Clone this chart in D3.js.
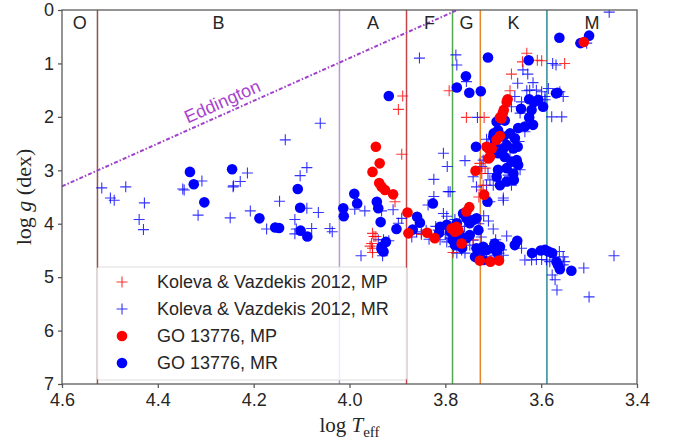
<!DOCTYPE html>
<html>
<head>
<meta charset="utf-8">
<script src="https://cdn.jsdelivr.net/npm/d3@7"></script>
<style>
  body { margin: 0; background: #fff; }
  svg { font-family: "Liberation Sans", Arial, sans-serif; }
</style>
</head>
<body>
<div id="chart"></div>
<script>
// spectral class boundaries (log Teff) and labels
const classBounds = [4.526, 4.021, 3.881, 3.785, 3.727, 3.588];
const classColours = ["#8c564b", "#b69ad6", "#c4464c", "#4fa94f", "#e8862a", "#2b8a99"];
const classLabels = ["O", "B", "A", "F", "G", "K", "M"];

// Eddington limit: log g = a * logT + b
const eddington = { a: 4.0, b: -15.1 };

const xTicks = [4.6, 4.4, 4.2, 4.0, 3.8, 3.6, 3.4];
const yTicks = [0, 1, 2, 3, 4, 5, 6, 7];

const seriesNames = ["Koleva & Vazdekis 2012, MP", "Koleva & Vazdekis 2012, MR", "GO 13776, MP", "GO 13776, MR"];

// Koleva & Vazdekis 2012, metal-poor  [logTeff, logg]
const kvMP = [
  [3.889,1.61],[3.898,1.86],[3.891,2.70],[3.792,1.51],[3.756,2.01],[3.719,2.01],[3.630,0.81],[3.639,0.97],
  [3.608,0.94],[3.599,0.95],[3.662,1.20],[3.665,1.51],[3.551,1.00],[3.905,3.59],[3.949,4.24],[3.954,4.37],
  [3.957,4.42],[3.952,4.18],[3.945,4.24],[3.952,4.46],[3.952,4.54],[3.728,2.87],[3.724,3.06],[3.717,2.96],
  [3.721,3.28],[3.724,3.37],[3.742,4.30],[3.784,4.54],[3.850,4.20],[3.730,3.50]
];

// Koleva & Vazdekis 2012, metal-rich
const kvMR = [
  [4.517,3.33],[4.499,3.52],[4.491,3.56],[4.467,3.31],[4.428,3.61],[4.439,3.92],[4.430,4.11],[4.345,3.37],
  [4.308,3.20],[4.316,3.84],[4.243,3.31],[4.249,3.89],[4.228,3.21],[4.134,2.43],[4.061,2.12],[4.089,2.95],
  [4.103,3.10],[4.089,3.71],[4.065,3.79],[4.146,3.58],[4.207,3.76],[4.242,3.29],[4.213,3.05],[4.348,3.35],
  [4.173,4.10],[4.114,3.92],[4.114,4.19],[4.111,4.10],[4.079,4.09],[4.041,4.09],[4.036,4.15],
  [3.989,3.73],[3.968,3.76],[3.909,3.74],[3.933,3.76],[3.929,4.30],[3.976,4.60],[3.931,4.60],[3.940,4.30],
  [3.918,4.32],[3.854,0.90],[3.850,4.18],[3.836,3.65],[3.824,3.49],[3.794,3.40],[3.804,3.81],[3.797,3.86],
  [3.811,4.30],[3.834,4.29],[3.898,3.99],[3.891,3.90],[3.804,2.68],[3.796,2.93],[3.824,3.17],[3.790,3.40],
  [3.820,4.05],[3.815,4.12],[3.830,4.22],[3.800,4.20],[3.840,4.12],[3.860,4.15],[3.870,4.25],
  [3.778,0.84],[3.776,1.03],[3.756,1.34],[3.759,2.82],[3.797,4.34],[3.790,4.27],[3.783,4.43],[3.776,4.55],
  [3.766,4.49],[3.759,4.55],[3.749,4.40],[3.742,4.31],[3.742,3.12],[3.735,3.31],[3.770,3.95],[3.775,4.20],
  [3.760,4.05],[3.765,4.30],[3.780,3.92],
  [3.733,2.01],[3.735,4.59],[3.724,4.55],[3.714,4.62],[3.707,4.46],[3.697,4.59],[3.690,4.62],[3.672,4.23],
  [3.641,4.46],[3.634,4.68],[3.620,4.68],[3.610,4.67],[3.599,4.67],[3.683,4.49],[3.679,4.59],[3.688,4.55],
  [3.679,3.56],[3.638,1.12],[3.628,1.20],[3.649,1.37],[3.617,1.36],[3.624,1.50],[3.630,1.51],[3.711,2.50],
  [3.714,2.42],[3.703,2.68],[3.714,2.75],[3.721,2.81],[3.724,2.93],[3.711,3.06],[3.707,3.18],[3.700,3.28],
  [3.676,3.21],[3.662,3.28],[3.679,3.52],[3.714,3.28],[3.707,3.59],[3.655,1.62],[3.641,1.72],[3.662,1.81],
  [3.644,1.93],[3.634,2.28],[3.646,2.46],[3.665,2.75],[3.644,2.99],[3.669,3.09],[3.610,1.50],[3.720,3.85],
  [3.730,4.00],[3.710,3.95],[3.700,4.10],[3.695,4.30],[3.725,4.25],
  [3.589,4.68],[3.582,4.71],[3.576,1.00],[3.569,1.03],[3.585,1.47],[3.592,1.62],[3.554,1.62],[3.561,1.53],
  [3.578,2.00],[3.557,2.00],[3.592,1.68],[3.458,0.04],[3.562,4.52],[3.554,4.62],[3.551,4.71],[3.554,4.77],
  [3.577,4.96],[3.571,5.05],[3.567,5.24],[3.511,4.83],[3.500,5.37],[3.448,4.60],[3.505,0.62],[3.599,1.53]
];

// GO 13776, metal-poor
const goMP = [
  [3.945,2.56],[3.937,2.87],[3.952,3.03],[3.938,3.24],[3.933,3.31],[3.926,3.37],[3.909,3.45],[3.879,3.79],
  [3.877,4.18],[3.838,4.17],[3.822,4.27],[3.784,4.09],[3.777,4.06],[3.773,4.12],[3.780,4.15],[3.787,4.09],
  [3.766,4.37],[3.728,4.69],[3.706,4.71],[3.688,4.69],[3.511,0.60],[3.670,1.67],[3.672,1.72],[3.678,1.87],
  [3.680,1.93],[3.686,2.01],[3.683,2.03],[3.686,2.36],[3.693,2.43],[3.714,2.56],[3.708,2.61],[3.703,2.59],
  [3.707,2.75],[3.710,2.78],[3.737,3.01],[3.719,3.46],[3.750,3.69],[3.756,3.77]
];

// GO 13776, metal-rich
const goMR = [
  [4.333,3.03],[4.325,3.26],[4.303,3.60],[4.245,2.98],[4.108,3.35],[4.103,3.70],[4.188,3.90],[4.155,4.07],
  [4.147,4.08],[4.102,4.13],[4.088,4.24],
  [4.013,3.71],[4.012,3.86],[3.990,3.44],[3.984,3.62],[3.943,3.59],[3.940,3.71],[3.935,3.97],[3.902,4.10],
  [3.924,4.34],[3.933,4.43],[3.933,4.48],[3.929,4.52],[3.918,1.61],
  [3.868,4.11],[3.859,3.87],[3.853,3.98],[3.826,3.62],[3.813,4.17],[3.811,4.06],[3.797,4.02],[3.776,3.99],
  [3.757,1.24],[3.776,1.45],[3.750,1.55],[3.763,3.81],[3.756,3.90],[3.749,3.99],[3.749,4.21],[3.756,4.27],
  [3.770,4.20],[3.785,4.30],[3.790,4.15],[3.780,4.40],[3.765,4.45],
  [3.726,1.52],[3.711,0.89],[3.626,0.94],[3.742,3.93],[3.735,3.90],[3.731,4.12],[3.735,4.46],[3.728,4.52],
  [3.721,4.43],[3.714,4.49],[3.700,4.46],[3.693,4.52],[3.686,4.43],[3.697,4.37],[3.738,4.62],[3.731,4.65],
  [3.721,4.68],[3.655,4.40],[3.650,4.32],[3.619,4.55],[3.601,4.50],[3.736,2.56],[3.712,3.59],
  [3.625,1.67],[3.615,1.72],[3.606,1.68],[3.596,1.81],[3.620,1.87],[3.642,1.85],[3.625,2.01],[3.617,2.15],
  [3.634,2.18],[3.648,2.21],[3.676,2.07],[3.693,2.09],[3.699,2.31],[3.690,2.25],[3.665,2.31],[3.679,2.37],
  [3.672,2.53],[3.655,2.40],[3.649,2.56],[3.658,2.59],[3.679,2.59],[3.697,2.50],[3.700,2.37],[3.690,2.68],
  [3.676,2.75],[3.662,2.84],[3.651,2.81],[3.648,2.90],[3.672,2.96],[3.658,3.06],[3.690,2.99],[3.693,3.12],
  [3.686,3.28],[3.672,3.21],[3.657,3.18],
  [3.592,4.49],[3.585,4.52],[3.577,4.55],[3.568,4.71],[3.565,4.77],[3.561,4.85],[3.537,4.88],[3.562,0.52],
  [3.500,0.48],[3.518,0.62],[3.569,1.56],[3.566,1.55]
];

const margin = {top: 10, right: 36, bottom: 56, left: 62};
const svgWidth = 673, svgHeight = 440;
const width = svgWidth - margin.left - margin.right;
const height = svgHeight - margin.top - margin.bottom;

const svg = d3.select("#chart").append("svg")
    .attr("width", svgWidth)
    .attr("height", svgHeight);

svg.append("defs").append("clipPath")
    .attr("id", "clip")
    .append("rect")
        .attr("width", width)
        .attr("height", height);

const plotArea = svg.append("g")
    .attr("transform", `translate(${margin.left},${margin.top})`);

const x = d3.scaleLinear().domain([4.6, 3.4]).range([0, width]);
const y = d3.scaleLinear().domain([0, 7]).range([0, height]);

const inner = plotArea.append("g").attr("clip-path", "url(#clip)");

// class boundaries
inner.selectAll(".bound")
    .data(classBounds)
    .enter().append("line")
        .attr("class", "bound")
        .attr("x1", d => x(d)).attr("x2", d => x(d))
        .attr("y1", 0).attr("y2", height)
        .style("stroke", (d, i) => classColours[i])
        .style("stroke-width", 1.5);

// class letters, centred between boundaries
const edges = [4.6, ...classBounds, 3.4];
plotArea.selectAll(".classLabel")
    .data(classLabels)
    .enter().append("text")
        .attr("class", "classLabel")
        .attr("x", (d, i) => x((edges[i] + edges[i + 1]) / 2))
        .attr("y", 13)
        .attr("dy", "0.35em")
        .attr("text-anchor", "middle")
        .style("font-size", "18px")
        .style("fill", "#262626")
        .text(d => d);

// Eddington line
const eddX = [4.6, 3.4];
inner.append("line")
    .attr("x1", x(eddX[0])).attr("y1", y(eddington.a * eddX[0] + eddington.b))
    .attr("x2", x(eddX[1])).attr("y2", y(eddington.a * eddX[1] + eddington.b))
    .style("stroke", "#a040cc")
    .style("stroke-width", 2)
    .style("stroke-dasharray", "4,2,1.5,2");

const slopeDeg = Math.atan2(y(eddington.a * 4.0 + eddington.b) - y(eddington.a * 4.1 + eddington.b), x(4.0) - x(4.1)) * 180 / Math.PI;
const eddLabelT = 4.255;
plotArea.append("text")
    .attr("transform", `translate(${x(eddLabelT)},${y(eddington.a * eddLabelT + eddington.b)}) rotate(${slopeDeg})`)
    .attr("y", -6)
    .attr("text-anchor", "middle")
    .style("font-size", "18px")
    .style("fill", "#a844d0")
    .text("Eddington");

// markers
const plusPath = "M-5.5,0H5.5M0,-5.5V5.5";

const drawPlus = (data, colour, cls) => {
    inner.selectAll(`.${cls}`)
        .data(data)
        .enter().append("path")
            .attr("class", cls)
            .attr("d", plusPath)
            .attr("transform", d => `translate(${x(d[0])},${y(d[1])})`)
            .style("stroke", colour)
            .style("stroke-width", 1.1)
            .style("fill", "none")
            .style("opacity", 0.8);
};

const drawDots = (data, colour, cls) => {
    inner.selectAll(`.${cls}`)
        .data(data)
        .enter().append("circle")
            .attr("class", cls)
            .attr("cx", d => x(d[0]))
            .attr("cy", d => y(d[1]))
            .attr("r", 5.3)
            .style("fill", colour);
};

drawPlus(kvMR, "#0000ff", "kvMR");
drawPlus(kvMP, "#ff0000", "kvMP");
drawDots(goMR, "#0000ff", "goMR");
drawDots(goMP, "#ff0000", "goMP");

// frame
plotArea.append("rect")
    .attr("width", width)
    .attr("height", height)
    .style("fill", "none")
    .style("stroke", "#555")
    .style("stroke-width", 1.25);

// axes
const xAxis = plotArea.append("g")
    .attr("transform", `translate(0,${height})`)
    .call(d3.axisBottom(x).tickValues(xTicks).tickFormat(d3.format(".1f")).tickSize(4).tickPadding(5));

const yAxis = plotArea.append("g")
    .call(d3.axisLeft(y).tickValues(yTicks).tickFormat(d3.format("d")).tickSize(4).tickPadding(4));

[xAxis, yAxis].forEach(a => {
    a.select(".domain").remove();
    a.selectAll("line").style("stroke", "#555").style("stroke-width", 1.25);
    a.selectAll("text").style("font-size", "18px").style("fill", "#262626")
        .style("font-family", "'Liberation Sans', Arial, sans-serif");
});

// axis labels
const xLabel = svg.append("text")
    .attr("x", margin.left + width / 2)
    .attr("y", 432)
    .attr("text-anchor", "middle")
    .style("font-family", "'Liberation Serif', 'DejaVu Serif', serif")
    .style("font-size", "21px")
    .style("fill", "#262626");
xLabel.append("tspan").text("log ");
xLabel.append("tspan").style("font-style", "italic").text("T");
xLabel.append("tspan").attr("dy", 5).style("font-size", "15px").text("eff");

const yLabel = svg.append("text")
    .attr("transform", `translate(31,${margin.top + height / 2}) rotate(-90)`)
    .attr("text-anchor", "middle")
    .style("font-family", "'Liberation Serif', 'DejaVu Serif', serif")
    .style("font-size", "22px")
    .style("fill", "#262626");
yLabel.append("tspan").text("log ");
yLabel.append("tspan").style("font-style", "italic").text("g");
yLabel.append("tspan").text(" (dex)");

// legend
const legend = plotArea.append("g")
    .attr("transform", `translate(${97 - margin.left},${267 - margin.top})`);

legend.append("rect")
    .attr("width", 310)
    .attr("height", 113)
    .attr("rx", 3)
    .style("fill", "#fff")
    .style("fill-opacity", 0.8)
    .style("stroke", "#dddddd");

const legendItems = legend.selectAll(".legendItem")
    .data(seriesNames)
    .enter().append("g")
        .attr("class", "legendItem")
        .attr("transform", (d, i) => `translate(0,${15 + i * 27})`);

legendItems.each(function(d, i) {
    const g = d3.select(this);
    const colour = (i % 2 === 0) ? "#ff0000" : "#0000ff";
    if (i < 2) {
        g.append("path")
            .attr("d", plusPath)
            .attr("transform", "translate(25,0)")
            .style("stroke", colour)
            .style("stroke-width", 1.1)
            .style("opacity", 0.8);
    } else {
        g.append("circle")
            .attr("cx", 25).attr("cy", 0).attr("r", 5.3)
            .style("fill", colour);
    }
    g.append("text")
        .attr("x", 60)
        .attr("dy", "0.35em")
        .style("font-size", "18px")
        .style("fill", "#262626")
        .text(d);
});
</script>
</body>
</html>
